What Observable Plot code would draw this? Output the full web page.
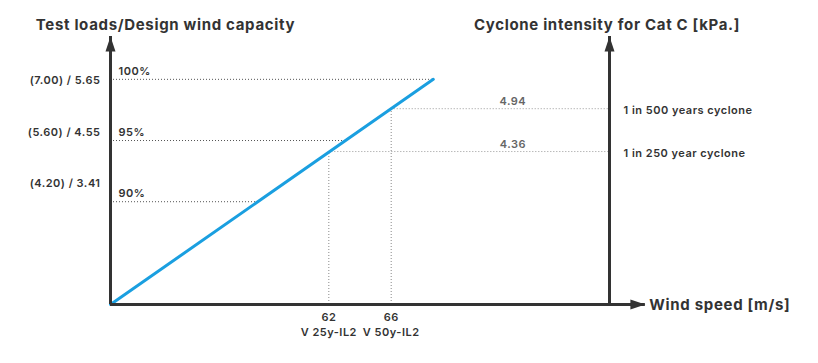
<!DOCTYPE html>
<html><head><meta charset="utf-8">
<script src="https://cdn.jsdelivr.net/npm/d3@7"></script>
<script src="https://cdn.jsdelivr.net/npm/@observablehq/plot@0.6"></script>
<style>
html,body{margin:0;padding:0;background:#fff;}
svg text{letter-spacing:0.045em;}
</style></head><body><div id="chart"></div>
<script>
// ---- data ----
const loadLevels = [100, 95, 90];                       // % of design capacity
const loadLabels = ["100%", "95%", "90%"];
const loadValues = ["(7.00) / 5.65", "(5.60) / 4.55", "(4.20) / 3.41"];
const windTicks = [62, 66];                              // m/s
const windTickLabels = ["V 25y-IL2", "V 50y-IL2"];
const cycloneWind = [66, 62];
const cycloneLevels = [97.6, 94.1];
const cyclonePressures = ["4.94", "4.36"];
const cycloneNames = ["1 in 500 years cyclone", "1 in 250 year cyclone"];
const lineWind = [48, 68.7];
const lineLevel = [81.6, 100.0];
const xDomain = [48, 80];
const yDomain = [81.6, 103.5];
const xAxisEnd = 82.3;
const leftTitle = "Test loads/Design wind capacity";
const rightTitle = "Cyclone intensity for Cat C [kPa.]";
const xTitle = "Wind speed [m/s]";

// ---- derived tables ----
const base = yDomain[0];
const slope = (lineLevel[1] - lineLevel[0]) / (lineWind[1] - lineWind[0]);
const windAt = lvl => Math.min(lineWind[0] + (lvl - lineLevel[0]) / slope, lineWind[1]);
const loads = loadLevels.map((v, i) => ({level: v, label: loadLabels[i], value: loadValues[i], xEnd: windAt(v)}));
const cyc = cycloneLevels.map((v, i) => ({level: v, wind: cycloneWind[i], pressure: cyclonePressures[i], name: cycloneNames[i]}));
const ticks = windTicks.map((w, i) => ({wind: w, label: windTickLabels[i]}));
const linePts = lineWind.map((w, i) => ({wind: w, level: lineLevel[i]}));

const upHead = {draw(ctx) { ctx.moveTo(0, 0); ctx.lineTo(5, 15); ctx.lineTo(-5, 15); ctx.closePath(); }};
const rightHead = {draw(ctx) { ctx.moveTo(0, 0); ctx.lineTo(-15, -5); ctx.lineTo(-15, 5); ctx.closePath(); }};

const ink = "#333";
const valueOffsets = [1, -8, -18];

const chart = Plot.plot({
  width: 818, height: 363,
  marginLeft: 110, marginRight: 209, marginTop: 36, marginBottom: 59,
  x: {domain: xDomain, axis: null},
  y: {domain: yDomain, axis: null},
  style: {fontFamily: "Inter, 'Noto Sans', sans-serif", background: "#fff", color: ink},
  marks: [
    Plot.ruleY(loads, {y: "level", x1: () => xDomain[0], x2: "xEnd", stroke: "#555", strokeWidth: 1, strokeDasharray: "1,2"}),
    Plot.ruleY(cyc, {y: "level", x1: "wind", x2: () => xDomain[1], stroke: "#999", strokeWidth: 1, strokeDasharray: "1,2"}),
    Plot.ruleX(cyc, {x: "wind", y1: () => base, y2: "level", stroke: "#888", strokeWidth: 1, strokeDasharray: "1,2"}),
    Plot.line(linePts, {x: "wind", y: "level", stroke: "#1a9fe0", strokeWidth: 3}),
    Plot.ruleX(xDomain, {x: d => d, y1: () => base, y2: () => yDomain[1], stroke: ink, strokeWidth: 3}),
    Plot.ruleY([base], {y: d => d, x1: () => xDomain[0], x2: () => xAxisEnd, stroke: ink, strokeWidth: 3}),
    Plot.dot(xDomain, {x: d => d, y: () => yDomain[1], symbol: upHead, fill: ink, stroke: "none"}),
    Plot.dot([base], {x: () => xAxisEnd, y: d => d, symbol: rightHead, fill: ink, stroke: "none"}),
    Plot.text(loads, {x: () => xDomain[0], y: "level", text: "label", textAnchor: "start", dx: 8, dy: -8, fontSize: 11, fontWeight: 600, fill: ink}),
    ...loads.map((d, i) => Plot.text([d], {x: () => xDomain[0], y: "level", text: "value", textAnchor: "end", dx: -10, dy: valueOffsets[i], fontSize: 11, fontWeight: 600, fill: ink})),
    Plot.text(cyc, {x: () => 73.8, y: "level", text: "pressure", dy: -7, fontSize: 11, fontWeight: 600, fill: "#666"}),
    Plot.text(cyc, {x: () => xDomain[1], y: "level", text: "name", textAnchor: "start", dx: 14, dy: 1.5, fontSize: 11, fontWeight: 600, fill: ink}),
    Plot.text(ticks, {x: "wind", y: () => base, text: d => String(d.wind), dy: 13, fontSize: 11, fontWeight: 600, fill: ink}),
    Plot.text(ticks, {x: "wind", y: () => base, text: "label", dy: 28, fontSize: 11, fontWeight: 600, fill: ink}),
    Plot.text([leftTitle], {x: () => xDomain[0], y: () => yDomain[1], text: d => d, dx: 55, dy: -11, fontSize: 15, fontWeight: 700, fill: ink}),
    Plot.text([rightTitle], {x: () => xDomain[1], y: () => yDomain[1], text: d => d, dx: -2.5, dy: -11, fontSize: 15, fontWeight: 700, fill: ink}),
    Plot.text([xTitle], {x: () => xAxisEnd, y: () => base, text: d => d, textAnchor: "start", dx: 4, dy: 1, fontSize: 15, fontWeight: 700, fill: ink})
  ]
});
document.getElementById("chart").appendChild(chart);
</script></body></html>
